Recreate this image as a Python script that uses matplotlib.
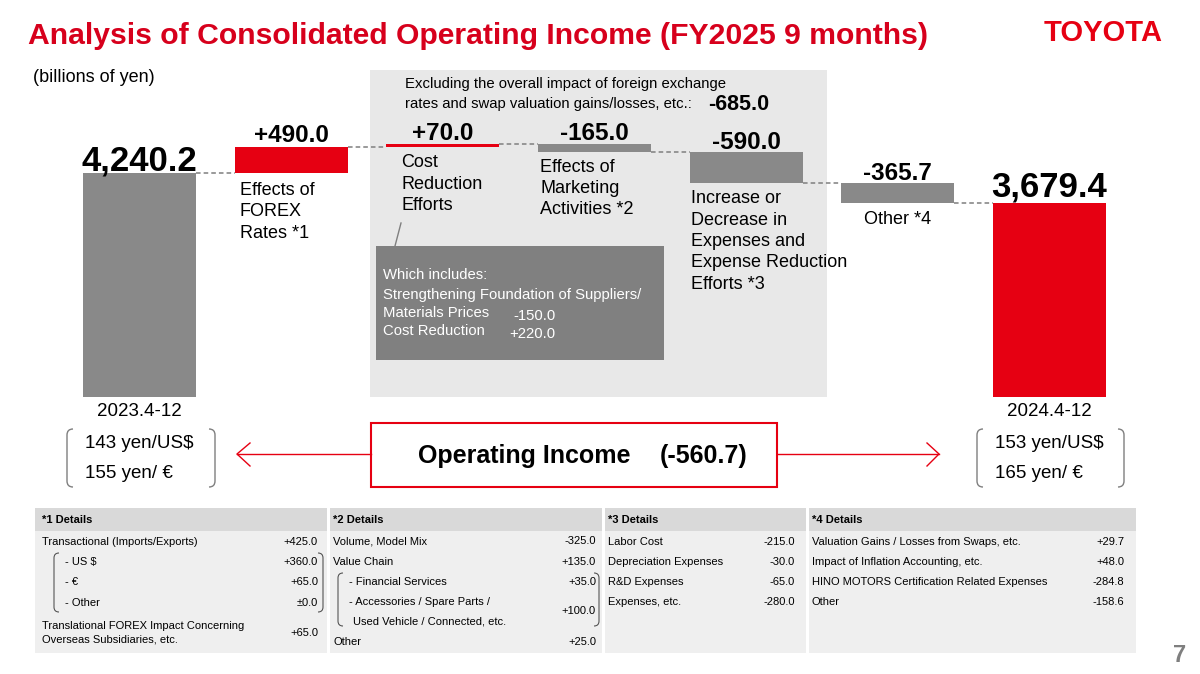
import matplotlib
matplotlib.use("Agg")
import matplotlib.pyplot as plt
from matplotlib.patches import Rectangle, PathPatch
from matplotlib.path import Path
from matplotlib.lines import Line2D
import matplotlib.transforms as mtransforms

# ---------------- data ----------------
period_labels = ["2023.4-12", "2024.4-12"]
start_value = 4240.2
end_value = 3679.4
step_names = ["Effects of\nFOREX\nRates *1",
              "Cost\nReduction\nEfforts",
              "Effects of\nMarketing\nActivities *2",
              "Increase or\nDecrease in\nExpenses and\nExpense Reduction\nEfforts *3",
              "Other *4"]
step_values = [490.0, 70.0, -165.0, -590.0, -365.7]
value_texts = ["4,240.2", "+490.0", "+70.0", "-165.0", "-590.0", "-365.7", "3,679.4"]

fx_before = ["143 yen/US$", "155 yen/ €"]
fx_after = ["153 yen/US$", "165 yen/ €"]
oi_change_text = "(-560.7)"
excl_text = ["Excluding the overall impact of foreign exchange",
             "rates and swap valuation gains/losses, etc.:"]
excl_value = "-685.0"
cost_note_title = ["Which includes:", "Strengthening Foundation of Suppliers/"]
cost_note_labels = ["Materials Prices", "Cost Reduction"]
cost_note_values = ["-150.0", "+220.0"]

table_headers = ["*1 Details", "*2 Details", "*3 Details", "*4 Details"]
d1_labels = ["Transactional (Imports/Exports)", "- US $", "- €", "- Other",
             "Translational FOREX Impact Concerning\nOverseas Subsidiaries, etc."]
d1_values = ["+425.0", "+360.0", "+65.0", "±0.0", "+65.0"]
d2_labels = ["Volume, Model Mix", "Value Chain", "- Financial Services",
             "- Accessories / Spare Parts /\n Used Vehicle / Connected, etc.", "Other"]
d2_values = ["-325.0", "+135.0", "+35.0", "+100.0", "+25.0"]
d3_labels = ["Labor Cost", "Depreciation Expenses", "R&D Expenses", "Expenses, etc."]
d3_values = ["-215.0", "-30.0", "-65.0", "-280.0"]
d4_labels = ["Valuation Gains / Losses from Swaps, etc.", "Impact of Inflation Accounting, etc.",
             "HINO MOTORS Certification Related Expenses", "Other"]
d4_values = ["+29.7", "+48.0", "-284.8", "-158.6"]

# ---------------- style ----------------
RED = "#E60012"
TRED = "#D7001C"
GRAY = "#898989"
W, H = 1200, 674
plt.rcParams['font.family'] = ['Liberation Sans', 'DejaVu Sans']

fig = plt.figure(figsize=(12, 6.74), dpi=100)
T = mtransforms.Affine2D().scale(1 / W, -1 / H).translate(0, 1) + fig.transFigure


def ftext(x, y, s, **kw):
    kw.setdefault('transform', T)
    kw.setdefault('zorder', 5)
    return fig.text(x, y, s, **kw)


def frect(x0, y0, x1, y1, **kw):
    kw.setdefault('edgecolor', 'none')
    r = Rectangle((x0, y0), x1 - x0, y1 - y0, transform=T, **kw)
    fig.add_artist(r)
    return r


def fline(xs, ys, **kw):
    l = Line2D(xs, ys, transform=T, **kw)
    fig.add_artist(l)
    return l


def paren(x, y0, y1, side, r=6, **kw):
    s = 1 if side == 'left' else -1
    verts = [(x + s * r, y0), (x, y0), (x, y0 + r), (x, y1 - r), (x, y1), (x + s * r, y1)]
    codes = [Path.MOVETO, Path.CURVE3, Path.CURVE3, Path.LINETO, Path.CURVE3, Path.CURVE3]
    p = PathPatch(Path(verts, codes), transform=T, fill=False, **kw)
    fig.add_artist(p)


# background shaded region
frect(370, 70, 827, 397, facecolor="#e8e8e8", zorder=0)

# ---------------- waterfall axes ----------------
ax = fig.add_axes([63.7 / W, 1 - 397 / H, (1125.3 - 63.7) / W, (397 - 100) / H])
ax.set_zorder(1)
ax.patch.set_alpha(0)
ax.axis('off')
ax.set_xlim(-0.5, 6.5)
ax.set_ylim(0, 5627)

levels = [start_value]
for v in step_values:
    levels.append(levels[-1] + v)

bottoms = [0] + [min(levels[i], levels[i + 1]) for i in range(len(step_values))] + [0]
heights = [start_value] + [abs(v) for v in step_values] + [end_value]
colors = [GRAY, RED, RED, GRAY, GRAY, GRAY, RED]
width = 0.745
xs = list(range(len(heights)))
ax.bar(xs, heights, bottom=bottoms, width=width, color=colors, zorder=2)

# connectors
for i in range(len(xs) - 1):
    ax.hlines(levels[i], i + width / 2, i + 1 - width / 2, colors="#7f7f7f",
              linestyles=(0, (3, 2)), lw=1.1, zorder=1)

px = 0.72  # points per pixel
label_sizes = [25, 17.5, 17.5, 17.5, 17.5, 17.5, 25]
label_off = [3, 5, 3.5, 3.5, 3.5, 3.5, 6]
for i in xs:
    ax.annotate(value_texts[i], (i, bottoms[i] + heights[i]), xytext=(0, label_off[i] * px),
                textcoords='offset points', ha='center', va='baseline',
                fontsize=label_sizes[i], fontweight='bold', color='black', zorder=5)

# category labels under step bars
cat_dx = [5, 15, 2, 1, None]
cat_dy = [9, 7, 6.5, 7, 8.5]
LS = 1.33
for k, name in enumerate(step_names):
    i = k + 1
    if cat_dx[k] is None:
        ax.annotate(name, (i, bottoms[i]), xytext=(0, -cat_dy[k] * px), textcoords='offset points',
                    ha='center', va='top', fontsize=13, linespacing=LS)
    else:
        ax.annotate(name, (i - width / 2, bottoms[i]), xytext=(cat_dx[k] * px, -cat_dy[k] * px),
                    textcoords='offset points', ha='left', va='top', fontsize=13, linespacing=LS)

for j, i in enumerate([0, len(xs) - 1]):
    ax.annotate(period_labels[j], (i, 0), xytext=(0, -15 * px), textcoords='offset points',
                ha='center', va='center', fontsize=13.5)

# ---------------- header ----------------
ftext(28, 36, "Analysis of Consolidated Operating Income (FY2025 9 months)", fontsize=21.7,
      fontweight='bold', color=TRED, va='center', ha='left')
ftext(1163, 33, "TOYOTA", fontsize=21, fontweight='bold', color=RED, va='center', ha='right')
ftext(33, 77, "(billions of yen)", fontsize=13, va='center', ha='left')
ftext(405, 84, excl_text[0], fontsize=10.7, va='center', ha='left')
ftext(405, 104, excl_text[1], fontsize=10.7, va='center', ha='left')
ftext(708, 104, excl_value, fontsize=15.5, fontweight='bold', va='center', ha='left')

# cost reduction note box
frect(376, 246, 664, 360, facecolor="#808080", zorder=0.5)
fline([401, 395], [223, 246], color="#7f7f7f", lw=1, zorder=3)
ftext(383, 275, cost_note_title[0], fontsize=10.7, color='white', va='center')
ftext(383, 295, cost_note_title[1], fontsize=10.7, color='white', va='center')
ftext(383, 313, cost_note_labels[0], fontsize=10.7, color='white', va='center')
ftext(513, 316, cost_note_values[0], fontsize=10.7, color='white', va='center')
ftext(383, 331, cost_note_labels[1], fontsize=10.7, color='white', va='center')
ftext(509, 334, cost_note_values[1], fontsize=10.7, color='white', va='center')

# ---------------- operating income box ----------------
frect(371, 423, 777, 487, facecolor='white', edgecolor=RED, lw=1.5, zorder=2)
ftext(418, 456, "Operating Income", fontsize=18, fontweight='bold', va='center', ha='left')
ftext(660, 456, oi_change_text, fontsize=18, fontweight='bold', va='center', ha='left')
fline([371, 237], [454, 454], color=RED, lw=1)
fline([250, 237, 250], [443, 454, 466], color=RED, lw=1)
fline([777, 939], [454, 454], color=RED, lw=1)
fline([927, 939, 927], [443, 454, 466], color=RED, lw=1)

paren(67, 429, 487, 'left', color="#7f7f7f", lw=1)
paren(215, 429, 487, 'right', color="#7f7f7f", lw=1)
paren(977, 429, 487, 'left', color="#7f7f7f", lw=1)
paren(1124, 429, 487, 'right', color="#7f7f7f", lw=1)
ftext(85, 443, fx_before[0], fontsize=13.5, va='center')
ftext(85, 473, fx_before[1], fontsize=13.5, va='center')
ftext(995, 443, fx_after[0], fontsize=13.5, va='center')
ftext(995, 473, fx_after[1], fontsize=13.5, va='center')

# ---------------- detail tables ----------------
cols = [(35, 327, 42, 318), (330, 602, 333, 596), (605, 806, 608, 795), (809, 1136, 812, 1124)]
for (x0, x1, tx, vx), hdr in zip(cols, table_headers):
    frect(x0, 508, x1, 531, facecolor="#d9d9d9", zorder=0)
    frect(x0, 531, x1, 653, facecolor="#efefef", zorder=0)
    ftext(tx, 520, hdr, fontsize=8, fontweight='bold', va='center')

FS = 8


def table_col(ci, labels, values, label_x, row_y, line_gap):
    x0, x1, tx, vx = cols[ci]
    for lab, val, lx, ry in zip(labels, values, label_x, row_y):
        lines = lab.split("\n")
        n = len(lines)
        for li, line in enumerate(lines):
            yy = ry + (li - (n - 1) / 2) * line_gap
            ftext(lx + (4 if li > 0 and line.startswith(" ") else 0), yy, line.strip(),
                  fontsize=FS, va='center')
        ftext(vx, ry, val, fontsize=FS, va='center', ha='right')


table_col(0, d1_labels, d1_values, [42, 65, 65, 65, 42], [542, 562, 582, 603, 633], 14)
table_col(1, d2_labels, d2_values, [333, 333, 349, 349, 333], [541, 562, 582, 611.5, 642], 19)
table_col(2, d3_labels, d3_values, [608] * 4, [542, 562, 582, 602], 14)
table_col(3, d4_labels, d4_values, [812] * 4, [542, 562, 582, 602], 14)

paren(54, 553, 612, 'left', r=5, color="#555555", lw=0.8)
paren(323, 553, 612, 'right', r=5, color="#555555", lw=0.8)
paren(338, 573, 626, 'left', r=5, color="#555555", lw=0.8)
paren(599, 573, 626, 'right', r=5, color="#555555", lw=0.8)

ftext(1180, 655, "7", fontsize=17, fontweight='bold', color="#7f7f7f", va='center', ha='center')

fig.savefig("out.png", dpi=100)
